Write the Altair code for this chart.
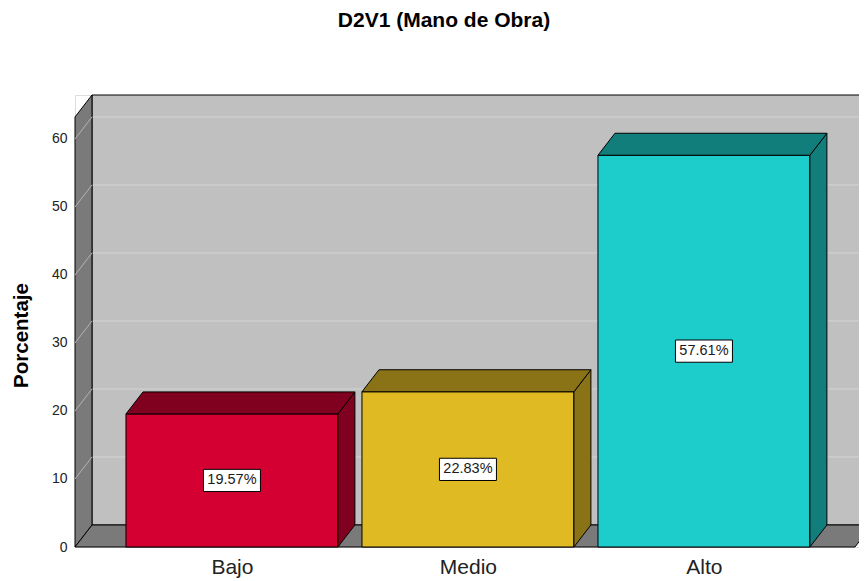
import json
import altair as alt
import pandas as pd

# ---- data ----
categories = ["Bajo", "Medio", "Alto"]
values = [19.57, 22.83, 57.61]
labels = ["19.57%", "22.83%", "57.61%"]
front_colors = ["#D50032", "#E0BA22", "#1CCDCC"]
shade_colors = ["#80001F", "#8A7216", "#117E7B"]
y_ticks = [0, 10, 20, 30, 40, 50, 60]

# ---- 3D geometry (data units) ----
X_MIN, X_MAX = -0.665, 2.657
Y_MAX = 66.47
HALF = 0.449
DX = 0.072
DY = 3.235
FLOOR_RIGHT = 2.64
FONT = "Liberation Sans"

xs = alt.Scale(domain=[X_MIN, X_MAX], nice=False, zero=False)
ys = alt.Scale(domain=[0, Y_MAX], nice=False, zero=False)
label_expr = json.dumps(categories) + "[datum.value]"
xaxis = alt.Axis(values=list(range(len(categories))), labelExpr=label_expr, title=None,
                 domain=False, ticks=False, grid=False, labelFontSize=21,
                 labelColor="#222222", labelPadding=9, labelFont=FONT, labelFlush=False)
yaxis = alt.Axis(values=y_ticks, title="Porcentaje", domain=False, ticks=False, grid=False,
                 labelFontSize=14, labelColor="#222222", labelPadding=8, labelFont=FONT,
                 titleFontSize=20.5, titleFontWeight="bold", titleFont=FONT, titleColor="#000000",
                 titlePadding=20, titleY=240, labelFlush=False)


def X(f):
    return alt.X(f, type="quantitative", scale=xs, axis=xaxis, stack=None)


def Y(f):
    return alt.Y(f, type="quantitative", scale=ys, axis=yaxis, stack=None)


# walls
back = pd.DataFrame({"x": [X_MIN + DX], "x2": [FLOOR_RIGHT + DX], "y": [DY], "y2": [Y_MAX]})
grid_back = pd.DataFrame({"y": [t + DY for t in y_ticks[1:]]})
grid_back["x"] = X_MIN + DX
grid_back["x2"] = FLOOR_RIGHT + DX
left_wall = pd.DataFrame({"x": [X_MIN, X_MIN + DX], "y": [0, DY], "y2": [Y_MAX - DY, Y_MAX]})
diag = pd.DataFrame({"y": y_ticks[1:], "y2": [t + DY for t in y_ticks[1:]]})
diag["x"] = X_MIN
diag["x2"] = X_MIN + DX
floor = pd.DataFrame({"y": [0, DY], "x": [X_MIN, X_MIN + DX], "x2": [FLOOR_RIGHT, FLOOR_RIGHT + DX]})

# bars
front_rows, side_rows, top_rows = [], [], []
for i, (c, v) in enumerate(zip(categories, values)):
    front_rows.append({"cat": c, "x": i - HALF, "x2": i + HALF, "y": 0, "y2": v,
                       "fill": front_colors[i], "label": labels[i], "mid": v / 2, "xc": i})
    side_rows += [{"cat": c, "x": i + HALF, "y": 0, "y2": v, "fill": shade_colors[i]},
                  {"cat": c, "x": i + HALF + DX, "y": DY, "y2": v + DY, "fill": shade_colors[i]}]
    top_rows += [{"cat": c, "y": v, "x": i - HALF, "x2": i + HALF, "fill": shade_colors[i]},
                 {"cat": c, "y": v + DY, "x": i - HALF + DX, "x2": i + HALF + DX, "fill": shade_colors[i]}]
front_df = pd.DataFrame(front_rows)
side_df = pd.DataFrame(side_rows)
top_df = pd.DataFrame(top_rows)

back_layer = alt.Chart(back).mark_rect(fill="#C0C0C0", stroke="#000000", strokeWidth=1).encode(
    x=X("x"), x2="x2", y=Y("y"), y2="y2")
grid_layer = alt.Chart(grid_back).mark_rule(color="#D4D4D4", strokeWidth=1).encode(
    x=X("x"), x2="x2", y=Y("y"))
left_layer = alt.Chart(left_wall).mark_area(fill="#7A7A7A", stroke="#000000", strokeWidth=1,
                                            orient="vertical").encode(x=X("x"), y=Y("y"), y2="y2")
diag_layer = alt.Chart(diag).mark_rule(color="#B4B4B4", strokeWidth=1).encode(
    x=X("x"), x2="x2", y=Y("y"), y2="y2")
floor_layer = alt.Chart(floor).mark_area(fill="#7A7A7A", stroke="#000000", strokeWidth=1,
                                         orient="horizontal").encode(y=Y("y"), x=X("x"), x2="x2")

front_layer = alt.Chart(front_df).mark_rect(stroke="#000000", strokeWidth=1).encode(
    x=X("x"), x2="x2", y=Y("y"), y2="y2", fill=alt.Fill("fill:N", scale=None))
side_layer = alt.Chart(side_df).mark_area(stroke="#000000", strokeWidth=1, orient="vertical",
                                          fillOpacity=1).encode(
    x=X("x"), y=Y("y"), y2="y2", fill=alt.Fill("fill:N", scale=None), detail="cat:N")
top_layer = alt.Chart(top_df).mark_area(stroke="#000000", strokeWidth=1, orient="horizontal",
                                        fillOpacity=1).encode(
    y=Y("y"), x=X("x"), x2="x2", fill=alt.Fill("fill:N", scale=None), detail="cat:N")

box_layer = alt.Chart(front_df).mark_point(
    shape="M-1,-0.39L1,-0.39L1,0.39L-1,0.39Z", size=3249, filled=True, fill="#FFFFFF",
    fillOpacity=1, stroke="#000000", strokeWidth=1, opacity=1).encode(x=X("xc"), y=Y("mid"))
text_layer = alt.Chart(front_df).mark_text(font=FONT, fontSize=14.5, color="#1A1A1A",
                                           baseline="middle", align="center").encode(
    x=X("xc"), y=Y("mid"), text="label:N")

chart = alt.layer(back_layer, grid_layer, left_layer, diag_layer, floor_layer,
                  front_layer, side_layer, top_layer, box_layer, text_layer).properties(
    width=784, height=452,
    title=alt.TitleParams("D2V1 (Mano de Obra)", fontSize=21, fontWeight="bold", font=FONT,
                          color="#000000", anchor="middle", dx=-23, offset=62),
    autosize=alt.AutoSizeParams(type="none"),
    padding={"left": 67, "top": 87, "right": 0, "bottom": 34},
).configure_view(stroke=None).configure(background="#FFFFFF")

chart.save("out.html", embed_options={"renderer": "svg", "actions": False})
